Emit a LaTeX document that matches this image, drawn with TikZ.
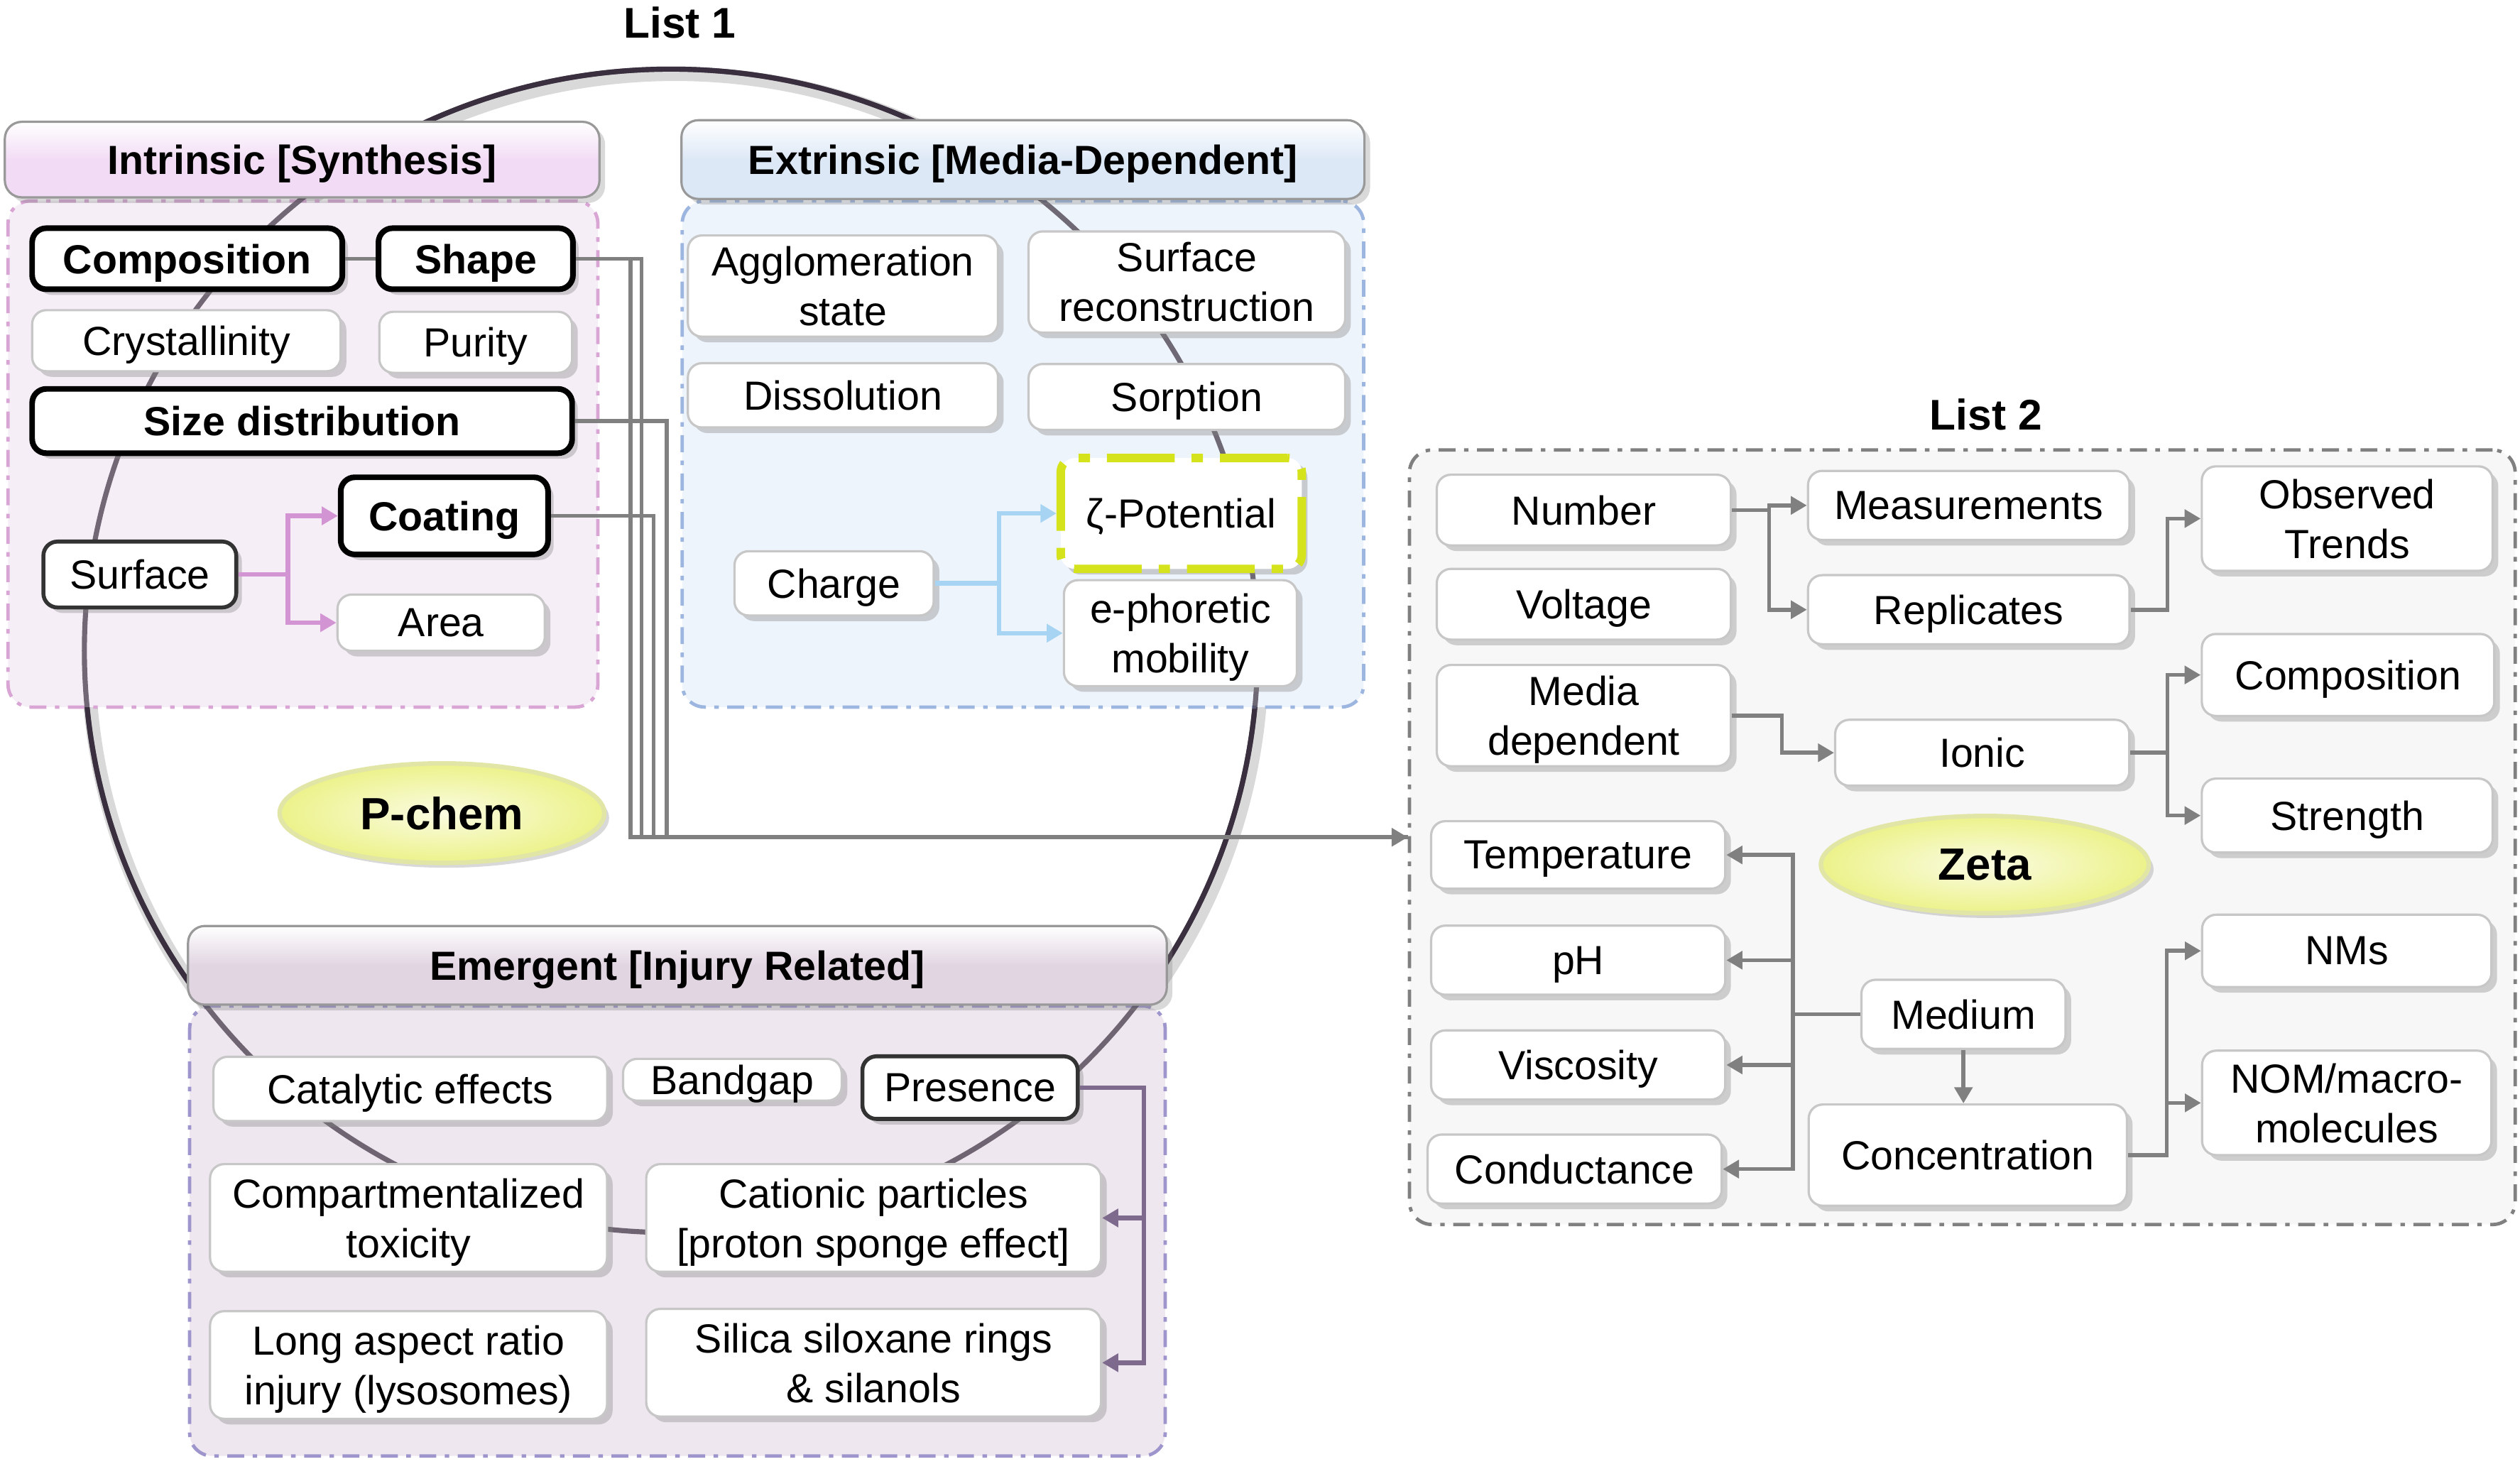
\documentclass[tikz,border=0pt]{standalone}
\usepackage{fontspec}
\setmainfont{Liberation Sans}
\usetikzlibrary{calc,shapes.geometric,arrows.meta,shadows}

\definecolor{circ}{HTML}{3A2F3E}
\definecolor{intrhead}{HTML}{F2DCF5}
\definecolor{intrfill}{HTML}{F6EEF7}
\definecolor{intrline}{HTML}{D8A5D5}
\definecolor{extrhead}{HTML}{DDE8F6}
\definecolor{extrfill}{HTML}{EEF4FB}
\definecolor{extrline}{HTML}{9CB6E0}
\definecolor{emerhead}{HTML}{E1D5E2}
\definecolor{emerfill}{HTML}{EEE7EF}
\definecolor{emerline}{HTML}{9D95CC}
\definecolor{listfill}{HTML}{F7F7F7}
\definecolor{listline}{HTML}{808080}
\definecolor{pinkarr}{HTML}{D394D4}
\definecolor{bluearr}{HTML}{A6D4F2}
\definecolor{purparr}{HTML}{7D6A8D}
\definecolor{zetaline}{HTML}{D5E31C}
\definecolor{ovalfill}{HTML}{ECF28A}
\definecolor{ovalline}{HTML}{E1E6A6}

\begin{document}
\begin{tikzpicture}[x=0.1mm, y=-0.1mm,
    font=\fontsize{7.2}{8.8}\selectfont,
    >={Triangle[length=1mm,width=1.1mm]},
    sz/.style 2 args={minimum width=#1mm, minimum height=#2mm},
    box/.style={draw=black!22, fill=white, rounded corners=2.5pt, align=center,
        inner sep=0pt, text depth=0pt,
        drop shadow={shadow xshift=0.35mm, shadow yshift=-0.35mm, opacity=0.35}},
    bbox/.style={box, draw=black, line width=1pt, font=\fontsize{7.2}{8.8}\selectfont\bfseries},
    dbox/.style={box, draw=black!80, line width=0.7pt},
    zbox/.style={box, draw=zetaline, line width=1.5pt, dash pattern=on 12pt off 3pt on 2pt off 3pt},
    head/.style={draw=black!40, rounded corners=3pt, inner sep=0pt, text depth=0pt,
        font=\fontsize{7.2}{8.8}\selectfont\bfseries,
        drop shadow={shadow xshift=0.35mm, shadow yshift=-0.35mm, opacity=0.3}},
    cont/.style={rounded corners=4pt, line width=0.6pt, inner sep=0pt,
        dash pattern=on 3pt off 1.5pt on 0.8pt off 1.5pt},
    oval/.style={ellipse, draw=ovalline, line width=0.8pt, inner color=ovalfill!25,
        outer color=ovalfill, text depth=0pt, font=\fontsize{8}{9}\selectfont\bfseries,
        drop shadow={shadow xshift=0.3mm, shadow yshift=-0.3mm, opacity=0.3}},
    title/.style={text depth=0pt, font=\fontsize{7.6}{9}\selectfont\bfseries},
    link/.style={draw=black!50, line width=0.7pt},
    plink/.style={draw=pinkarr, line width=0.8pt},
    blink/.style={draw=bluearr, line width=0.8pt},
    elink/.style={draw=purparr, line width=0.8pt}]
    \useasboundingbox (0,0) rectangle (1568,911);

    \draw[black!15, line width=2.5pt] (420,408) ellipse [x radius=365, y radius=362];
    \draw[circ, line width=0.9pt] (417.5,405) ellipse [x radius=365, y radius=362];

    \node[cont, draw=intrline, fill=intrfill, sz={36.7}{31.5}] (intr) at (188.5,282.5) {};
    \node[cont, draw=extrline, fill=extrfill, sz={42.4}{31.5}] (extr) at (636.5,282.5) {};
    \node[cont, draw=emerline, fill=emerfill, sz={60.7}{28.0}] (emer) at (421.5,766) {};
    \node[cont, draw=listline, fill=listfill, sz={68.8}{48.2}] (L2) at (1221,521) {};
    \draw[circ, line width=0.9pt, draw opacity=0.7] (417.5,405) ellipse [x radius=365, y radius=362];

    \node[head, top color=white, bottom color=intrhead, middle color=intrhead, sz={37.0}{4.7}] (intrh) at (188,99.3) {Intrinsic [Synthesis]};
    \node[head, top color=white, bottom color=extrhead, middle color=extrhead, sz={42.5}{4.9}] (extrh) at (636.5,99.3) {Extrinsic [Media-Dependent]};
    \node[head, top color=white, bottom color=emerhead, middle color=emerhead, sz={60.9}{4.9}] (emerh) at (421.5,600.7) {Emergent [Injury Related]};

    \node[title] (t1) at (423,14) {List 1};
    \node[title] (t2) at (1235.7,258) {List 2};

    \node[bbox, sz={19.3}{3.8}] (comp) at (116.5,161) {Composition};
    \node[bbox, sz={12.1}{3.8}] (shape) at (296,161) {Shape};
    \node[box, sz={19.2}{3.8}] (cryst) at (116,212) {Crystallinity};
    \node[box, sz={12.0}{3.8}] (pur) at (296,213) {Purity};
    \node[bbox, sz={33.6}{4.0}] (size) at (188,262) {Size distribution};
    \node[bbox, sz={12.9}{4.8}] (coat) at (276.5,321) {Coating};
    \node[dbox, sz={12.0}{4.1}] (surf) at (87,357.5) {Surface};
    \node[box, sz={12.9}{3.5}] (area) at (274.5,387.5) {Area};

    \node[box, sz={19.3}{6.3}] (aggl) at (524.5,178) {Agglomeration\\state};
    \node[box, sz={19.7}{6.3}] (srec) at (738.5,175.5) {Surface\\reconstruction};
    \node[box, sz={19.3}{4.0}] (diss) at (524.5,246) {Dissolution};
    \node[box, sz={19.7}{4.1}] (sorp) at (738.5,247) {Sorption};
    \node[zbox, sz={15.0}{6.9}] (zpot) at (735,319.5) {ζ-Potential};
    \node[box, sz={14.5}{6.6}] (eph) at (734.5,394) {e-phoretic\\mobility};
    \node[box, sz={12.4}{4.0}] (charge) at (519,363) {Charge};

    \node[oval, sz={20.2}{5.2}] (pchem) at (275,506) {P-chem};

    \node[box, sz={24.5}{4.0}] (cat) at (255.3,677.6) {Catalytic effects};
    \node[box, sz={13.6}{2.6}] (band) at (455.7,671.9) {Bandgap};
    \node[dbox, sz={13.4}{3.9}] (pres) at (603.6,676.8) {Presence};
    \node[box, sz={24.7}{6.7}] (compt) at (254.2,757.9) {Compartmentalized\\toxicity};
    \node[box, sz={28.3}{6.7}] (cati) at (543.6,757.9) {Cationic particles\\{[proton sponge effect]}};
    \node[box, sz={24.7}{6.7}] (lar) at (254.2,849.4) {Long aspect ratio\\injury (lysosomes)};
    \node[box, sz={28.3}{6.7}] (sil) at (543.6,848) {Silica siloxane rings\\\& silanols};

    \node[box, sz={18.3}{4.4}] (num) at (985.5,317.4) {Number};
    \node[box, sz={18.3}{4.4}] (volt) at (985.5,376) {Voltage};
    \node[box, sz={18.3}{6.3}] (media) at (985.5,445.3) {Media\\dependent};
    \node[box, sz={20.0}{4.3}] (meas) at (1225,314.5) {Measurements};
    \node[box, sz={20.0}{4.3}] (repl) at (1225,379.4) {Replicates};
    \node[box, sz={18.1}{6.5}] (obs) at (1460.5,322.7) {Observed\\Trends};
    \node[box, sz={18.3}{4.1}] (ionic) at (1233.4,468.4) {Ionic};
    \node[box, sz={18.2}{5.1}] (comp2) at (1461,420) {Composition};
    \node[box, sz={18.1}{4.6}] (str) at (1460.5,507.5) {Strength};
    \node[oval, sz={20.4}{5.9}] (zeta) at (1235,538) {Zeta};
    \node[box, sz={18.3}{4.2}] (temp) at (982,532) {Temperature};
    \node[box, sz={18.3}{4.3}] (ph) at (982,597.5) {pH};
    \node[box, sz={18.3}{4.3}] (visc) at (982,662.7) {Viscosity};
    \node[box, sz={18.3}{4.3}] (cond) at (979.8,727.5) {Conductance};
    \node[box, sz={12.7}{4.3}] (medium) at (1221.7,631.2) {Medium};
    \node[box, sz={19.8}{6.3}] (conc) at (1224.4,718.8) {Concentration};
    \node[box, sz={18.0}{4.5}] (nms) at (1460.2,591.7) {NMs};
    \node[box, sz={18.0}{6.5}] (nom) at (1460.2,686.3) {NOM/macro-\\molecules};

    \draw[link] (comp) -- (shape);
    \draw[link] (shape.east) -- ++(34,0) |- (L2.west);
    \draw[link] (shape.east) -- ++(41,0) |- (L2.west);
    \draw[link] (size.east) -- ++(57,0) |- (L2.west);
    \draw[link,->] (coat.east) -- ++(64,0) |- (L2.west);
    \draw[plink,->] (surf.east) -- ++(31,0) |- (coat.west);
    \draw[plink,->] (surf.east) -- ++(31,0) |- (area.west);
    \draw[blink,->] (charge.east) -- ++(40,0) |- (zpot.west);
    \draw[blink,->] (charge.east) -- ++(40,0) |- (eph.west);
    \draw[elink,->] (pres.east) -- ++(40,0) |- (cati.east);
    \draw[elink,->] (pres.east) -- ++(40,0) |- (sil.east);

    \draw[link,->] (num.east) -- ++(23,0) |- (meas.west);
    \draw[link,->] (num.east) -- ++(23,0) |- (repl.west);
    \draw[link,->] (repl.east) -- ++(23,0) |- (obs.west);
    \draw[link,->] (media.east) -- ++(31,0) |- (ionic.west);
    \draw[link,->] (ionic.east) -- ++(23,0) |- (comp2.west);
    \draw[link,->] (ionic.east) -- ++(23,0) |- (str.west);
    \draw[link,->] (medium.west) -- ++(-42,0) |- (temp.east);
    \draw[link,->] (medium.west) -- ++(-42,0) |- (ph.east);
    \draw[link,->] (medium.west) -- ++(-42,0) |- (visc.east);
    \draw[link,->] (medium.west) -- ++(-42,0) |- (cond.east);
    \draw[link,->] (medium.south) -- (medium.south |- conc.north);
    \draw[link,->] (conc.east) -- ++(24,0) |- (nms.west);
    \draw[link,->] (conc.east) -- ++(24,0) |- (nom.west);
\end{tikzpicture}
\end{document}
